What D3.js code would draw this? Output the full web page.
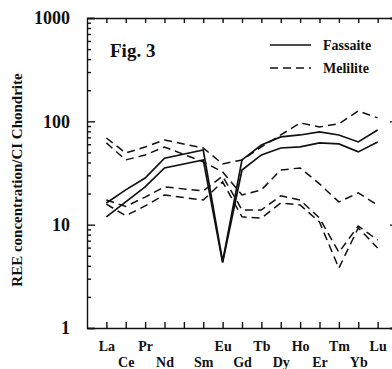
<!DOCTYPE html>
<html>
<head>
<meta charset="utf-8">
<script src="https://cdn.jsdelivr.net/npm/d3@7"></script>
<style>
  body { margin: 0; background: #fff; }
  svg { display: block; }
  text { font-family: "Liberation Serif", "Times New Roman", serif; font-weight: bold; fill: #111; }
  .axis path, .axis line { stroke: #111; stroke-width: 1.4; }
</style>
</head>
<body>
<div id="chart"></div>
<script>
// REE elements along the x axis (Pm has no data)
const elements = ["La", "Ce", "Pr", "Nd", "Pm", "Sm", "Eu", "Gd", "Tb", "Dy", "Ho", "Er", "Tm", "Yb", "Lu"];
const yTicks = [1, 10, 100, 1000];

// chondrite-normalised values
const fassaite1 = [16.2, 21.7, 28.3, 44, null, 52.8, 4.4, 42.3, 59, 70.6, 73.8, 78.9, 73.8, 63.2, 82.6];
const fassaite2 = [11.9, 16.6, 23.2, 35.4, null, 42.3, 4.3, 33.8, 47.3, 55.2, 56.5, 61.8, 60.4, 50.6, 63.2];
const melilite1 = [69, 49.4, 56.5, 66, null, 55.2, 38.7, 42.3, 56.5, 73.8, 96.5, 88.3, 94.5, 126, 108];
const melilite2 = [61.8, 42.3, 47.3, 56.5, null, 40.5, 32.4, 19.4, 21.7, 33.8, 35.4, 24.8, 16.6, 20.3, 15.5];
const melilite3 = [17.3, 15, 18.5, 23.2, null, 21.2, 29.5, 13.9, 13.9, 19, 17.3, 11.6, 5.4, 9.7, 7.1];
const melilite4 = [15.8, 12.2, 15.2, 19.4, null, 17.3, 26, 11.9, 11.6, 16.2, 15.5, 10.6, 3.8, 9.3, 5.95];

const series = [
  { name: "Fassaite", values: fassaite1, dash: null },
  { name: "Fassaite", values: fassaite2, dash: null },
  { name: "Melilite", values: melilite1, dash: "8,5" },
  { name: "Melilite", values: melilite2, dash: "8,5" },
  { name: "Melilite", values: melilite3, dash: "8,5" },
  { name: "Melilite", values: melilite4, dash: "8,5" }
];

const width = 392, height = 369;
const plot = { left: 87, right: 397, top: 18, bottom: 328 };

const svg = d3.select("#chart").append("svg")
  .attr("width", width)
  .attr("height", height);

const x = d3.scaleLinear().domain([0, elements.length + 1]).range([plot.left, plot.right]);
const y = d3.scaleLog().domain([1, 1000]).range([plot.bottom, plot.top]);

// minor ticks 2..9 in every decade
const minor = [];
for (let d = 1; d < 1000; d *= 10) for (let k = 2; k < 10; k++) minor.push(d * k);

// left axis
svg.append("g").attr("class", "axis")
  .attr("transform", "translate(" + plot.left + ",0)")
  .call(d3.axisLeft(y).tickValues(yTicks).tickFormat(d3.format("d")).tickSize(-8).tickPadding(17))
  .selectAll("text").style("font-size", "18px");
svg.append("g").attr("class", "axis")
  .attr("transform", "translate(" + plot.left + ",0)")
  .call(d3.axisLeft(y).tickValues(minor).tickFormat("").tickSize(-4))
  .select(".domain").remove();

// right axis
svg.append("g").attr("class", "axis")
  .attr("transform", "translate(" + plot.right + ",0)")
  .call(d3.axisRight(y).tickValues(yTicks).tickFormat("").tickSize(-7));
svg.append("g").attr("class", "axis")
  .attr("transform", "translate(" + plot.right + ",0)")
  .call(d3.axisRight(y).tickValues(minor).tickFormat("").tickSize(-4))
  .select(".domain").remove();

// bottom axis with two staggered rows of labels
const idx = d3.range(1, elements.length + 1);
const bottomAxis = svg.append("g").attr("class", "axis")
  .attr("transform", "translate(0," + plot.bottom + ")")
  .call(d3.axisBottom(x).tickValues(idx).tickSize(-6).tickSizeOuter(0)
    .tickFormat(i => elements[i - 1] === "Pm" ? "" : elements[i - 1]));
bottomAxis.selectAll("text")
  .style("font-size", "14px")
  .attr("y", i => (i % 2 === 1 ? 13 : 29));

// top axis
svg.append("g").attr("class", "axis")
  .attr("transform", "translate(0," + plot.top + ")")
  .call(d3.axisTop(x).tickValues(idx).tickSize(-5).tickSizeOuter(0).tickFormat(""));

// lines
const line = d3.line()
  .x(d => x(d.i))
  .y(d => y(d.v));

series.forEach(s => {
  const pts = s.values.map((v, k) => ({ i: k + 1, v: v })).filter(d => d.v != null);
  svg.append("path")
    .datum(pts)
    .attr("d", line)
    .attr("fill", "none")
    .attr("stroke", "#111")
    .attr("stroke-width", s.dash ? 1.5 : 1.7)
    .attr("stroke-dasharray", s.dash);
});

// y axis title
svg.append("text")
  .attr("transform", "translate(22,180) rotate(-90)")
  .attr("text-anchor", "middle")
  .style("font-size", "15px")
  .text("REE concentration/CI Chondrite");

// figure tag
svg.append("text")
  .attr("x", 110).attr("y", 57)
  .style("font-size", "19px")
  .text("Fig. 3");

// legend
const legend = [
  { label: "Fassaite", dash: null, y: 45 },
  { label: "Melilite", dash: "8,5", y: 68 }
];
legend.forEach(l => {
  svg.append("line")
    .attr("x1", 270).attr("x2", 311)
    .attr("y1", l.y).attr("y2", l.y)
    .attr("stroke", "#111")
    .attr("stroke-width", 1.7)
    .attr("stroke-dasharray", l.dash);
  svg.append("text")
    .attr("x", 323).attr("y", l.y + 5)
    .style("font-size", "14px")
    .text(l.label);
});
</script>
</body>
</html>
